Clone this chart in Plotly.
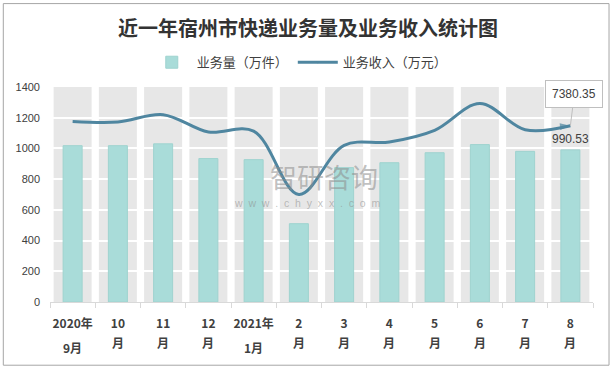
import plotly.graph_objects as go

cat_line1 = ["2020年", "10", "11", "12", "2021年", "2", "3", "4", "5", "6", "7", "8"]
cat_line2 = ["9月", "月", "月", "月", "1月", "月", "月", "月", "月", "月", "月", "月"]
volume = [1018, 1018, 1030, 934, 927, 510, 875, 907, 972, 1025, 981, 990.53]          # 业务量（万件）
revenue = [7560, 7534, 7843, 7116, 7155, 4500, 6557, 6699, 7187, 8306, 7213, 7380.35]  # 业务收入（万元）
y_ticks = [0, 200, 400, 600, 800, 1000, 1200, 1400]

TXT = "#404040"
FONT = "Noto Sans CJK SC, Liberation Sans, sans-serif"
n = len(cat_line1)
xs = list(range(n))

fig = go.Figure()

# grey background band per category
for i in xs:
    fig.add_shape(type="rect", xref="x", yref="y", x0=i - 0.42, x1=i + 0.42, y0=0, y1=1400,
                  fillcolor="#e7e7e7", line_width=0, layer="below")

fig.add_trace(go.Bar(
    x=xs, y=volume, name="业务量（万件）",
    marker=dict(color="#a9dcd9", line=dict(color="#9fd3cf", width=1)),
    width=0.42, hoverinfo="y"))

symbols = ["diamond"] + ["circle"] * (n - 2) + ["arrow"]
sizes = [10] + [0] * (n - 2) + [11]
fig.add_trace(go.Scatter(
    x=xs, y=revenue, name="业务收入（万元）", yaxis="y2", mode="lines+markers",
    line=dict(color="#4f86a0", width=3, shape="spline", smoothing=1.0),
    marker=dict(symbol=symbols, size=sizes, color="#4f86a0", angleref="previous",
                line=dict(width=0))))

# second line of the category labels
for i in xs:
    y2 = -0.21 if cat_line2[i] != "月" else -0.19
    fig.add_annotation(x=i, xref="x", yref="paper", y=y2, text=f"<b>{cat_line2[i]}</b>",
                       showarrow=False, yanchor="middle",
                       font=dict(size=12, color=TXT, family=FONT))

# labels on last point
fig.add_annotation(x=xs[-1], y=volume[-1], text=f"{volume[-1]:.2f}", showarrow=False,
                   yanchor="bottom", yshift=2, font=dict(size=12, color=TXT, family="Liberation Sans"))
fig.add_annotation(x=xs[-1], y=revenue[-1], yref="y2", text=f"{revenue[-1]:.2f}",
                   showarrow=True, arrowhead=0, arrowcolor="#bfbfbf", arrowwidth=1, ax=4, ay=-32,
                   bordercolor="#bfbfbf", borderwidth=1, borderpad=6, bgcolor="white",
                   font=dict(size=12, color=TXT, family="Liberation Sans"))

# watermark
fig.add_annotation(xref="paper", yref="paper", x=0.505, y=0.585, text="智研咨询", showarrow=False,
                   yanchor="middle", font=dict(size=27, color="rgba(140,140,140,0.55)", family=FONT))
sp = "\u00a0\u00a0"
fig.add_annotation(xref="paper", yref="paper", x=0.475, y=0.462,
                   text=sp.join(list("www.chyxx.com")),
                   showarrow=False, yanchor="middle",
                   font=dict(size=10.5, color="rgba(140,140,140,0.55)", family="Liberation Sans"))

# outer border
fig.add_shape(type="rect", xref="paper", yref="paper", x0=-0.086, x1=1.0295, y0=-0.294, y1=1.388,
              line=dict(color="#a6a6a6", width=1), fillcolor="rgba(0,0,0,0)", layer="above")

fig.update_layout(
    width=616, height=369,
    margin=dict(l=50, r=23, t=87, b=67, autoexpand=False),
    paper_bgcolor="white", plot_bgcolor="white",
    barmode="overlay",
    title=dict(text="<b>近一年宿州市快递业务量及业务收入统计图</b>", x=0.5, xref="container",
               yref="container", y=1 - 29 / 369, xanchor="center", yanchor="middle",
               font=dict(size=20, color="#333333", family=FONT)),
    legend=dict(orientation="h", x=0.46, xanchor="center", y=1.115, yanchor="middle",
                font=dict(size=13, color=TXT, family=FONT), itemwidth=40, bgcolor="rgba(0,0,0,0)"),
    xaxis=dict(tickmode="array", tickvals=xs, ticktext=[f"<b>{t}</b>" for t in cat_line1],
               range=[-0.5, n - 0.5], showgrid=False, ticks="", tickangle=0, automargin=False,
               ticklabelstandoff=11, showline=True, linecolor="#d9d9d9", zeroline=False,
               minor=dict(tickvals=[i - 0.5 for i in xs] + [n - 0.5], ticks="outside",
                          ticklen=5, tickcolor="#d9d9d9", showgrid=False),
               tickfont=dict(size=12, color=TXT, family=FONT)),
    yaxis=dict(range=[0, 1400], tickvals=y_ticks, gridcolor="white", gridwidth=1.5,
               zeroline=False, showline=False, automargin=False, ticklabelstandoff=9,
               tickfont=dict(size=11, color=TXT, family="Liberation Sans")),
    yaxis2=dict(range=[0, 9000], overlaying="y", side="right", visible=False),
    showlegend=True,
)

fig.write_html("out.html", config={"displayModeBar": False},
               post_script="document.body.style.margin='0';document.body.style.overflow='hidden';")
